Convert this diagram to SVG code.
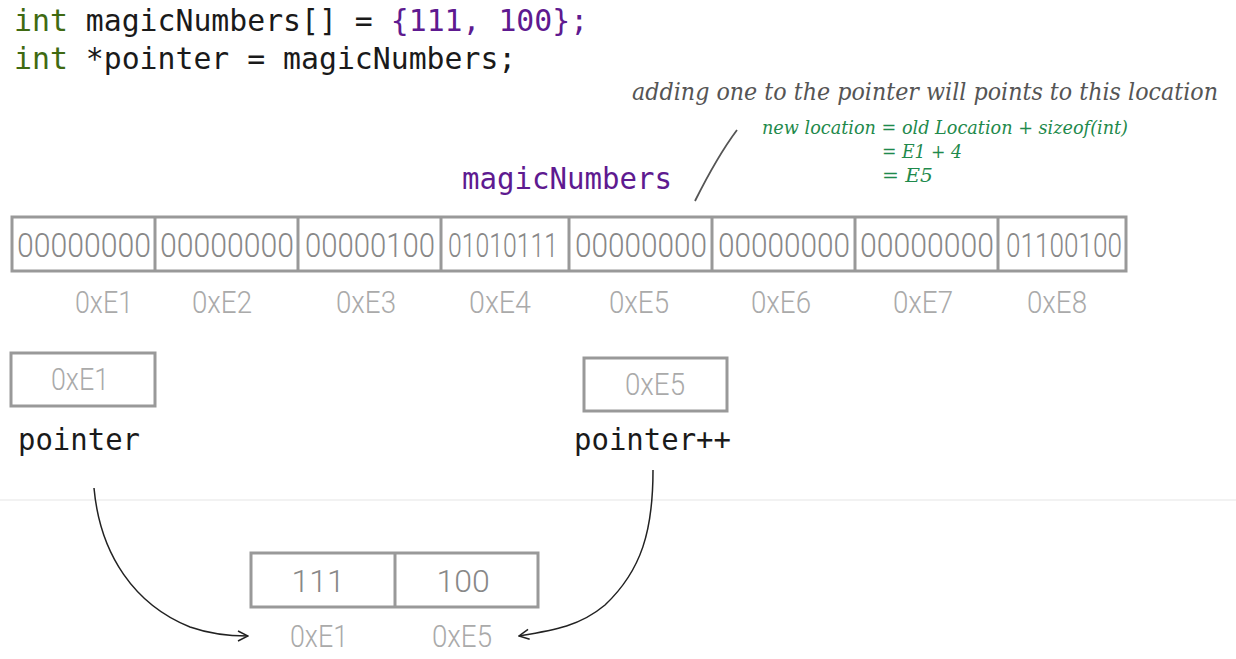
<svg xmlns="http://www.w3.org/2000/svg" width="1236" height="659" viewBox="0 0 1236 659">
<style>
.code{font-family:"DejaVu Sans Mono",monospace;font-size:29.8px;fill:#1a1a1a}
.kw{fill:#3f6a12}
.pur{fill:#5e1a90}
.box{fill:#fff;stroke:#999;stroke-width:3}
.div{stroke:#999;stroke-width:3}
.bits{font-family:Roboto,"Liberation Sans",sans-serif;font-weight:300;font-size:34px;fill:#888;text-anchor:middle}
.addr{font-family:Roboto,"Liberation Sans",sans-serif;font-weight:300;font-size:32px;fill:#aaa;text-anchor:middle}
.hand{font-family:"DejaVu Serif",serif;font-style:italic}
.conn{fill:none;stroke:#222;stroke-width:1.5}
</style>
<defs>
<marker id="arr" viewBox="0 0 12 12" refX="11" refY="6" markerWidth="12" markerHeight="12" markerUnits="userSpaceOnUse" orient="auto">
<path d="M1,1 L11,6 L1,11" fill="none" stroke="#222" stroke-width="1.5"/>
</marker>
</defs>
<rect width="1236" height="659" fill="#fff"/>
<line x1="0" y1="500" x2="1236" y2="500" stroke="#eee" stroke-width="1.5"/>

<g id="code">
<text class="code" x="14" y="31"><tspan class="kw">int</tspan> magicNumbers[] = <tspan class="pur">{111, 100};</tspan></text>
<text class="code" x="14" y="69"><tspan class="kw">int</tspan> *pointer = magicNumbers;</text>
</g>

<g id="note">
<text class="hand" x="632" y="100" font-size="24" fill="#555" textLength="586" lengthAdjust="spacingAndGlyphs">adding one to the pointer will points to this location</text>
<text class="hand" x="762" y="134" font-size="18" fill="#1f8a4c" textLength="366" lengthAdjust="spacingAndGlyphs">new location = old Location + sizeof(int)</text>
<text class="hand" x="882" y="158" font-size="18" fill="#1f8a4c" textLength="80" lengthAdjust="spacingAndGlyphs">= E1 + 4</text>
<text class="hand" x="882" y="182" font-size="18" fill="#1f8a4c" textLength="51" lengthAdjust="spacingAndGlyphs">= E5</text>
<path d="M737,130 C722,150 708,175 695,201" fill="none" stroke="#555" stroke-width="1.8"/>
</g>

<g id="label-magicNumbers">
<text class="code pur" x="462" y="189" textLength="210" lengthAdjust="spacingAndGlyphs">magicNumbers</text>
</g>

<g id="memory">
<rect class="box" x="12" y="217" width="1114" height="54"/>
<line class="div" x1="155" y1="217" x2="155" y2="271"/>
<line class="div" x1="298" y1="217" x2="298" y2="271"/>
<line class="div" x1="441" y1="217" x2="441" y2="271"/>
<line class="div" x1="569" y1="217" x2="569" y2="271"/>
<line class="div" x1="712" y1="217" x2="712" y2="271"/>
<line class="div" x1="855" y1="217" x2="855" y2="271"/>
<line class="div" x1="998" y1="217" x2="998" y2="271"/>
<text class="bits" x="84" y="257" textLength="134" lengthAdjust="spacingAndGlyphs">00000000</text>
<text class="bits" x="227" y="257" textLength="134" lengthAdjust="spacingAndGlyphs">00000000</text>
<text class="bits" x="370" y="257" textLength="130" lengthAdjust="spacingAndGlyphs">00000100</text>
<text class="bits" x="503" y="257" textLength="110" lengthAdjust="spacingAndGlyphs">01010111</text>
<text class="bits" x="641" y="257" textLength="132" lengthAdjust="spacingAndGlyphs">00000000</text>
<text class="bits" x="784" y="257" textLength="132" lengthAdjust="spacingAndGlyphs">00000000</text>
<text class="bits" x="927" y="257" textLength="134" lengthAdjust="spacingAndGlyphs">00000000</text>
<text class="bits" x="1064" y="257" textLength="116" lengthAdjust="spacingAndGlyphs">01100100</text>
<text class="addr" x="104" y="313" textLength="58" lengthAdjust="spacingAndGlyphs">0xE1</text>
<text class="addr" x="222" y="313" textLength="60" lengthAdjust="spacingAndGlyphs">0xE2</text>
<text class="addr" x="366" y="313" textLength="60" lengthAdjust="spacingAndGlyphs">0xE3</text>
<text class="addr" x="500" y="313" textLength="62" lengthAdjust="spacingAndGlyphs">0xE4</text>
<text class="addr" x="639" y="313" textLength="60" lengthAdjust="spacingAndGlyphs">0xE5</text>
<text class="addr" x="781" y="313" textLength="60" lengthAdjust="spacingAndGlyphs">0xE6</text>
<text class="addr" x="923" y="313" textLength="60" lengthAdjust="spacingAndGlyphs">0xE7</text>
<text class="addr" x="1057" y="313" textLength="60" lengthAdjust="spacingAndGlyphs">0xE8</text>
</g>

<g id="pointer">
<rect class="box" x="11" y="353" width="144" height="53"/>
<text class="addr" x="80" y="390" textLength="58" lengthAdjust="spacingAndGlyphs">0xE1</text>
<text class="code" x="18" y="450" textLength="122" lengthAdjust="spacingAndGlyphs">pointer</text>
</g>

<g id="pointer-inc">
<rect class="box" x="584" y="358" width="143" height="53"/>
<text class="addr" x="655" y="395" textLength="60" lengthAdjust="spacingAndGlyphs">0xE5</text>
<text class="code" x="574" y="450" textLength="157" lengthAdjust="spacingAndGlyphs">pointer++</text>
</g>

<g id="array">
<rect class="box" x="251" y="553" width="287" height="54"/>
<line class="div" x1="395" y1="553" x2="395" y2="607"/>
<text class="addr" x="318" y="592" style="fill:#888">111</text>
<text class="addr" x="463" y="592" style="fill:#888">100</text>
<text class="addr" x="319" y="647" textLength="58" lengthAdjust="spacingAndGlyphs">0xE1</text>
<text class="addr" x="462" y="647" textLength="60" lengthAdjust="spacingAndGlyphs">0xE5</text>
</g>

<g id="connectors">
<path class="conn" d="M94,488 C100,555 135,605 190,627 C210,634 228,636 248,636" marker-end="url(#arr)"/>
<path class="conn" d="M653,470 C653,530 642,570 605,605 C580,626 555,630 519,636" marker-end="url(#arr)"/>
</g>
</svg>
